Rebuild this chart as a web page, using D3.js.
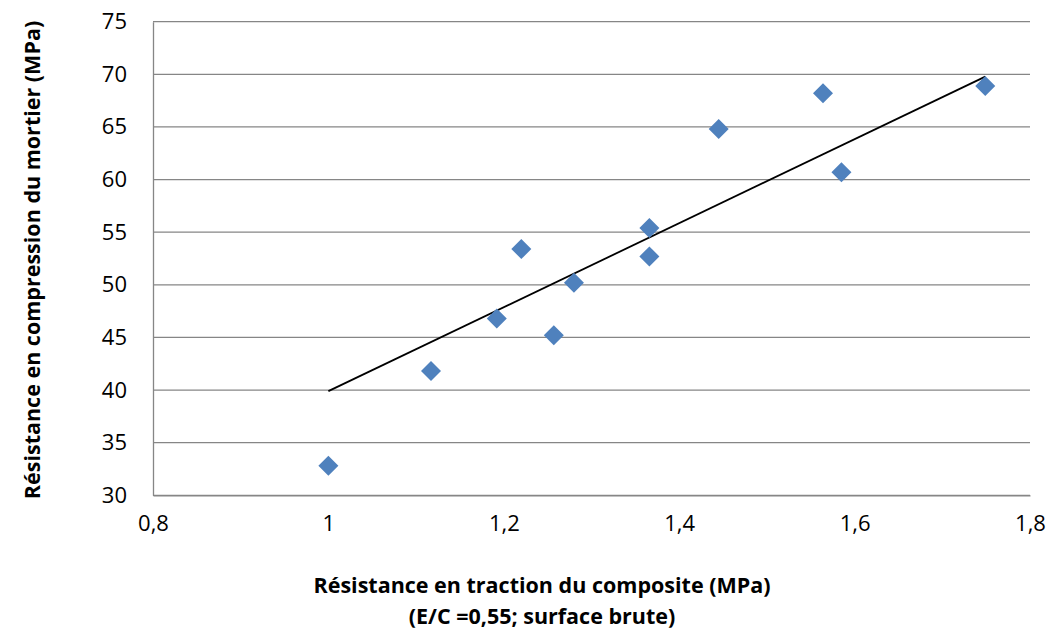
<!DOCTYPE html>
<html><head><meta charset="utf-8">
<script src="https://cdn.jsdelivr.net/npm/d3@7"></script>
<style>
html,body{margin:0;padding:0;background:#fff;}
text{font-family:"Open Sans",sans-serif;}
</style></head>
<body>
<svg id="chart" width="1054" height="635"></svg>
<script>
const tractionMPa = [1.0, 1.117, 1.192, 1.220, 1.257, 1.280, 1.366, 1.366, 1.445, 1.564, 1.585, 1.749];
const compressionMPa = [32.8, 41.8, 46.8, 53.4, 45.2, 50.2, 52.7, 55.4, 64.8, 68.2, 60.7, 68.9];
const xTicks = [0.8, 1.0, 1.2, 1.4, 1.6, 1.8];
const yTicks = [30, 35, 40, 45, 50, 55, 60, 65, 70, 75];
const xTitle = "Résistance en traction du composite (MPa)";
const xSubtitle = "(E/C =0,55; surface brute)";
const yTitle = "Résistance en compression du mortier (MPa)";

const svg = d3.select("#chart");
const mLeft = 153, mRight = 1030, mTop = 21.7, mBottom = 495.3;
const x = d3.scaleLinear().domain([0.8, 1.8]).range([mLeft, mRight]);
const y = d3.scaleLinear().domain([30, 75]).range([mBottom, mTop]);
const fmt = d => d3.format("~g")(d).replace(".", ",");

// gridlines
svg.append("g").selectAll("line").data(yTicks).join("line")
  .attr("x1", mLeft).attr("x2", mRight)
  .attr("y1", d => y(d)).attr("y2", d => y(d))
  .attr("stroke", "#868686").attr("stroke-width", 1.3);

// y axis
const yAxis = svg.append("g").attr("transform", `translate(${mLeft},0)`)
  .call(d3.axisLeft(y).tickValues(yTicks).tickSize(0).tickPadding(26).tickFormat(d => d));
yAxis.select(".domain").attr("stroke", "#868686").attr("stroke-width", 1.3);
yAxis.selectAll("text").attr("font-size", 22).attr("fill", "#000").attr("font-family", "Open Sans");

// x axis
const xAxis = svg.append("g").attr("transform", `translate(0,${mBottom})`)
  .call(d3.axisBottom(x).tickValues(xTicks).tickSize(0).tickPadding(20).tickFormat(fmt));
xAxis.select(".domain").attr("stroke", "#868686").attr("stroke-width", 1.3);
xAxis.selectAll("text").attr("font-size", 22).attr("fill", "#000").attr("font-family", "Open Sans");

// trendline (linear, zero intercept)
const sxy = d3.sum(tractionMPa, (v, i) => v * compressionMPa[i]);
const sxx = d3.sum(tractionMPa, v => v * v);
const b = sxy / sxx;
const xMin = d3.min(tractionMPa), xMax = d3.max(tractionMPa);
svg.append("line")
  .attr("x1", x(xMin)).attr("y1", y(b * xMin))
  .attr("x2", x(xMax)).attr("y2", y(b * xMax))
  .attr("stroke", "#000").attr("stroke-width", 1.8);

// points
const diamond = d3.symbol().type(d3.symbolSquare).size(200);
svg.append("g").selectAll("path").data(tractionMPa).join("path")
  .attr("d", diamond)
  .attr("transform", (d, i) => `translate(${x(d)},${y(compressionMPa[i])}) rotate(45)`)
  .attr("fill", "#4F81BD");

// titles
svg.append("text").attr("x", 542).attr("y", 593).attr("text-anchor", "middle")
  .attr("font-size", 21.5).attr("font-weight", "bold").text(xTitle);
svg.append("text").attr("x", 542).attr("y", 624).attr("text-anchor", "middle")
  .attr("font-size", 21.5).attr("font-weight", "bold").text(xSubtitle);
svg.append("text").attr("transform", "translate(40,260) rotate(-90)").attr("text-anchor", "middle")
  .attr("font-size", 21.5).attr("font-weight", "bold").text(yTitle);
</script>
</body></html>
